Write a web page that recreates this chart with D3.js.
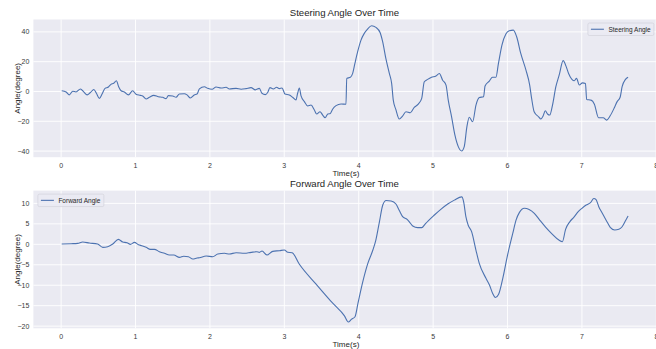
<!DOCTYPE html>
<html>
<head>
<meta charset="utf-8">
<script src="https://cdn.jsdelivr.net/npm/d3@7"></script>
<style>
  html, body { margin: 0; padding: 0; background: #fff; }
  svg { display: block; font-family: "Liberation Sans", Arial, sans-serif; }
</style>
</head>
<body>
<svg id="chart" width="656" height="349"></svg>
<script>
// --- data ------------------------------------------------------------------
const steerTime = [0.008, 0.067, 0.11, 0.156, 0.2, 0.26, 0.304, 0.35, 0.394, 0.44, 0.474, 0.515, 0.55, 0.59, 0.636, 0.67, 0.707, 0.743, 0.774, 0.806, 0.85, 0.904, 0.962, 1.007, 1.066, 1.097, 1.142, 1.187, 1.245, 1.308, 1.366, 1.41, 1.442, 1.5, 1.545, 1.59, 1.657, 1.693, 1.738, 1.79, 1.827,
  1.859, 1.926, 1.97, 2.03, 2.083, 2.15, 2.218, 2.262, 2.352, 2.42, 2.486, 2.553, 2.612, 2.665, 2.7, 2.745, 2.777, 2.808, 2.853, 2.898, 2.934, 2.97, 3.01, 3.068, 3.113, 3.158, 3.18, 3.203, 3.226, 3.27, 3.315, 3.36, 3.405, 3.436, 3.481, 3.517, 3.55, 3.585, 3.62, 3.65, 3.696, 3.764, 3.83,
  3.84, 3.889, 3.92, 3.95, 3.987, 4.032, 4.076, 4.12, 4.175, 4.233, 4.29, 4.323, 4.366, 4.413, 4.444, 4.466, 4.5, 4.547, 4.59, 4.637, 4.695, 4.748, 4.802, 4.848, 4.883, 4.928, 4.98, 5.04, 5.085, 5.13, 5.175, 5.205, 5.25, 5.295, 5.34, 5.385, 5.42, 5.456, 5.488, 5.533, 5.578, 5.623, 5.68, 5.7, 5.757,
  5.8, 5.846, 5.88, 5.927, 5.98, 6.025, 6.08, 6.125, 6.18, 6.25, 6.3, 6.326, 6.36, 6.42, 6.45, 6.48, 6.51, 6.54, 6.57, 6.607, 6.652, 6.697, 6.75, 6.787, 6.823, 6.868, 6.9, 6.93, 6.967, 7.01, 7.05, 7.066, 7.125, 7.17, 7.226, 7.289, 7.335, 7.38, 7.44, 7.476, 7.516, 7.543, 7.588, 7.623];
const steerAngle = [0.5, -0.3, -2.3, 0.2, -0.3, 1.7, -0.3, -2.3, -0.7, 1.3, -1.2, -4.6, -1.7, 2.1, 3.0, 4.8, 5.5, 7.2, 3.2, 0.5, -0.3, -2.3, 0.5, -1.9, -2.6, -3.0, -5.0, -3.9, -2.6, -3.5, -3.9, -4.8, -2.8, -3.0, -3.9, -1.7, -1.5, -2.3, -4.4, -2.3, -1.7,
  1.7, 3.2, 2.1, 1.5, 3.0, 2.3, 2.8, 1.7, 2.1, 1.5, 1.9, 2.6, 1.1, 2.1, -1.2, -2.1, -0.7, 2.6, 1.7, 2.8, 1.9, 2.3, -1.7, -2.3, -3.9, -5.7, -1.2, 2.3, -3.0, -6.8, -9.7, -9.1, -12.4, -15.1, -13.6, -15.8, -17.6, -15.1, -14.7, -11.9, -9.5, -8.4, -8.6,
  8.8, 9.5, 12.1, 18.8, 26.7, 34.5, 39.0, 41.9, 44.1, 43.0, 39.4, 33.4, 22.2, 12.1, 5.4, -5.8, -12.0, -18.5, -16.5, -13.6, -14.3, -10.7, -8.5, -4.6, 6.5, 8.1, 9.5, 10.4, 12.1, 7.6, 4.3, -5.8, -17.0, -29.3, -37.0, -39.9, -37.0, -23.6, -17.3, -20.3, -9.1, -4.1, -3.5, 3.7, 7.0,
  9.5, 9.5, 18.8, 31.1, 38.5, 40.7, 41.2, 36.7, 25.5, 14.3, 4.3, -4.6, -13.6, -17.0, -18.5, -16.5, -12.9, -15.1, -15.8, -9.1, 3.2, 11.1, 20.7, 17.2, 12.1, 8.1, 7.2, 8.8, 4.3, 5.8, 5.4, -5.4, -5.8, -8.5, -17.6, -17.6, -19.2, -16.5, -10.7, -6.8, -3.9, 3.2, 8.1, 9.5];

const fwdTime = [0.008, 0.134, 0.223, 0.29, 0.38, 0.49, 0.56, 0.626, 0.694, 0.77, 0.828, 0.886, 0.931, 0.985, 1.04, 1.084, 1.142, 1.2, 1.254, 1.321, 1.389, 1.455, 1.514, 1.59, 1.648, 1.711, 1.77, 1.827,
  1.859, 1.95, 2.038, 2.105, 2.195, 2.262, 2.352, 2.464, 2.553, 2.63, 2.665, 2.7, 2.768, 2.844, 2.934, 3.0, 3.046, 3.104, 3.2, 3.43, 3.65,
  3.808, 3.86, 3.9, 3.95, 3.99, 4.05, 4.12, 4.19, 4.23, 4.278, 4.323, 4.368, 4.435, 4.5, 4.547, 4.59, 4.65, 4.68, 4.726, 4.793, 4.848, 4.89, 4.937, 5.017, 5.107, 5.196, 5.285, 5.384, 5.41, 5.44, 5.47, 5.517, 5.575, 5.62, 5.71,
  5.757, 5.8, 5.837, 5.88, 5.936, 6.0, 6.07, 6.114, 6.16, 6.226, 6.29, 6.36, 6.425, 6.514, 6.6, 6.69, 6.737, 6.78, 6.836, 6.89, 6.95, 7.0, 7.057, 7.115, 7.16, 7.19, 7.226, 7.27, 7.325, 7.38, 7.44, 7.496, 7.54, 7.587, 7.62];
const fwdAngle = [0.07, 0.15, 0.23, 0.55, 0.31, 0.07, -0.74, -0.58, 0.07, 1.21, 0.55, 0.39, -0.02, 0.47, -0.1, -0.35, -0.74, -1.23, -1.23, -1.8, -2.2, -2.62, -2.62, -3.2, -2.9, -3.03, -3.6, -3.35,
  -3.27, -2.86, -3.03, -2.38, -2.2, -2.38, -2.05, -2.2, -1.96, -1.8, -1.96, -1.64, -2.62, -1.72, -1.56, -1.39, -1.96, -2.05, -4.82, -9.8, -14.4,
  -17.5, -19.0, -18.35, -17.7, -14.4, -9.5, -4.8, -1.4, 1.04, 5.5, 9.6, 10.7, 10.6, 9.85, 8.2, 6.76, 6.1, 5.5, 4.48, 4.07, 4.07, 4.9, 5.8, 7.16, 8.6, 9.85, 10.8, 11.6, 10.4, 6.76, 4.72, 3.1, -1.4, -4.66, -8.3,
  -9.95, -12.0, -13.0, -12.2, -8.3, -2.62, 2.67, 5.9, 7.8, 8.8, 8.5, 7.57, 6.1, 4.15, 2.5, 1.04, 0.64, 3.66, 5.5, 6.6, 8.0, 8.8, 9.6, 10.2, 11.2, 10.9, 9.2, 7.7, 5.9, 4.15, 3.5, 3.66, 4.3, 5.8, 6.9];

const xTicks = [0, 1, 2, 3, 4, 5, 6, 7, 8];
const steerTicks = [-40, -20, 0, 20, 40];
const fwdTicks = [-20, -15, -10, -5, 0, 5, 10];

// --- layout ---------------------------------------------------------------
const svg = d3.select('#chart');
const lineColor = '#4c72b0';
const fmt = v => (v < 0 ? '\u2212' + Math.abs(v) : String(v));

// matplotlib style 5% padding
function padded(vals) {
  const [lo, hi] = d3.extent(vals);
  const m = (hi - lo) * 0.05;
  return [lo - m, hi + m];
}

function panel(opts) {
  const { top, bottom, times, values, yTicks, title, legend, legendLeft } = opts;
  const left = 33.4, right = 656.4;

  const x = d3.scaleLinear().domain(padded(times)).range([left, right]);
  const y = d3.scaleLinear().domain(padded(values)).range([bottom, top]);

  const g = svg.append('g');

  g.append('rect')
    .attr('x', left).attr('y', top)
    .attr('width', right - left).attr('height', bottom - top)
    .attr('fill', '#eaeaf2');

  // grid
  g.selectAll('.vgrid').data(xTicks).enter().append('line')
    .attr('x1', d => x(d)).attr('x2', d => x(d))
    .attr('y1', top).attr('y2', bottom)
    .attr('stroke', '#fff').attr('stroke-width', 0.9);
  g.selectAll('.hgrid').data(yTicks).enter().append('line')
    .attr('x1', left).attr('x2', right)
    .attr('y1', d => y(d)).attr('y2', d => y(d))
    .attr('stroke', '#fff').attr('stroke-width', 0.9);

  // tick labels
  g.selectAll('.xt').data(xTicks).enter().append('text')
    .attr('x', d => x(d)).attr('y', bottom + 10.5)
    .attr('text-anchor', 'middle')
    .attr('font-size', 7).attr('fill', '#3a3a3a')
    .text(fmt);
  g.selectAll('.yt').data(yTicks).enter().append('text')
    .attr('x', left - 4).attr('y', d => y(d) + 2.5)
    .attr('text-anchor', 'end')
    .attr('font-size', 7).attr('fill', '#3a3a3a')
    .text(fmt);

  // line
  const line = d3.line()
    .x((d, i) => x(times[i]))
    .y(d => y(d))
    .curve(d3.curveMonotoneX);
  g.append('path')
    .attr('d', line(values))
    .attr('fill', 'none')
    .attr('stroke', lineColor)
    .attr('stroke-width', 1.1)
    .attr('stroke-linejoin', 'round');

  // labels
  g.append('text')
    .attr('x', (left + right) / 2 - 0.5).attr('y', top - 3.5)
    .attr('text-anchor', 'middle')
    .attr('font-size', 9.6).attr('fill', '#262626')
    .text(title);
  g.append('text')
    .attr('x', (left + right) / 2 + 1).attr('y', bottom + 18.5)
    .attr('text-anchor', 'middle')
    .attr('font-size', 8).attr('fill', '#262626')
    .text('Time(s)');
  g.append('text')
    .attr('transform', `translate(19.5, ${(top + bottom) / 2}) rotate(-90)`)
    .attr('text-anchor', 'middle')
    .attr('font-size', 8).attr('fill', '#262626')
    .text('Angle(degree)');

  // legend
  const lw = 66, lh = 12.5;
  const lx = legendLeft ? left + 4.5 : right - 2.5 - lw;
  const ly = top + 3.5;
  const lg = g.append('g');
  lg.append('rect')
    .attr('x', lx).attr('y', ly).attr('width', lw).attr('height', lh)
    .attr('rx', 1.5)
    .attr('fill', '#eaeaf2').attr('fill-opacity', 0.8)
    .attr('stroke', '#cfcfd6').attr('stroke-width', 0.6);
  lg.append('line')
    .attr('x1', lx + 3).attr('x2', lx + 16)
    .attr('y1', ly + lh / 2).attr('y2', ly + lh / 2)
    .attr('stroke', lineColor).attr('stroke-width', 1.1);
  lg.append('text')
    .attr('x', lx + 20.5).attr('y', ly + lh / 2 + 2.3)
    .attr('font-size', 6.5).attr('fill', '#262626')
    .text(legend);
}

panel({
  top: 19.5, bottom: 157.2,
  times: steerTime, values: steerAngle, yTicks: steerTicks,
  title: 'Steering Angle Over Time', legend: 'Steering Angle', legendLeft: false
});
panel({
  top: 190.6, bottom: 328.3,
  times: fwdTime, values: fwdAngle, yTicks: fwdTicks,
  title: 'Forward Angle Over Time', legend: 'Forward Angle', legendLeft: true
});
</script>
</body>
</html>
